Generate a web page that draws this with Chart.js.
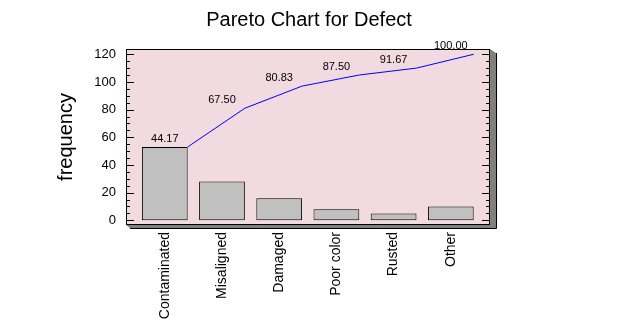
<!DOCTYPE html>
<html>
<head>
<meta charset="utf-8">
<script src="https://cdn.jsdelivr.net/npm/chart.js@4.4.1/dist/chart.umd.min.js"></script>
<style>
  html, body { margin: 0; padding: 0; background: #ffffff; }
  canvas { display: block; }
</style>
</head>
<body>
<canvas id="pareto" width="618" height="326"></canvas>
<script>
// Defect categories, sorted as in the Pareto ordering ("Other" last)
const categories = ['Contaminated', 'Misaligned', 'Damaged', 'Poor color', 'Rusted', 'Other'];
// Count of defects in each category
const counts = [53, 28, 16, 8, 5, 10];
// Labelled values on the frequency axis
const yTickValues = [0, 20, 40, 60, 80, 100, 120];

const FONT = "'Liberation Sans', Arial, Helvetica, sans-serif";
const BAR_PCT = 0.8;

// Running total of counts and the cumulative percentage shown above each bar
const total = counts.reduce((a, b) => a + b, 0);
const cumulative = [];
counts.reduce((acc, c, i) => (cumulative[i] = acc + c), 0);
const cumPercent = cumulative.map(c => (c / total * 100).toFixed(2));

// Plot frame: pink panel, grey 3-D shadow, inside tick marks on both sides
const framePlugin = {
  id: 'frame',
  beforeDraw(chart) {
    const ctx = chart.ctx;
    ctx.save();
    ctx.fillStyle = '#ffffff';
    ctx.fillRect(0, 0, chart.width, chart.height);
    ctx.restore();
  },
  beforeDatasetsDraw(chart) {
    const { ctx, chartArea: a, scales } = chart;
    const L = Math.round(a.left), R = Math.round(a.right);
    const T = Math.round(a.top), B = Math.round(a.bottom);
    ctx.save();
    // shadow on the right and bottom
    ctx.fillStyle = '#808080';
    ctx.beginPath();
    ctx.moveTo(R, T); ctx.lineTo(R + 6, T + 4); ctx.lineTo(R + 6, B + 3);
    ctx.lineTo(L + 4, B + 3); ctx.lineTo(L, B); ctx.closePath();
    ctx.fill();
    ctx.strokeStyle = '#000000';
    ctx.lineWidth = 1;
    ctx.beginPath();
    ctx.moveTo(R + 6.5, T + 4); ctx.lineTo(R + 6.5, B + 3.5); ctx.lineTo(L + 4, B + 3.5);
    ctx.stroke();
    // panel
    ctx.fillStyle = '#f2dae1';
    ctx.fillRect(L, T, R - L, B - T);
    // tick marks every 5, longer at every 20
    const y = scales.y;
    ctx.strokeStyle = '#000000';
    ctx.beginPath();
    for (let v = 0; v <= 120; v += 5) {
      const py = Math.round(y.getPixelForValue(v)) + 0.5;
      const len = v % 20 === 0 ? 8 : 4;
      ctx.moveTo(L, py); ctx.lineTo(L + len, py);
      ctx.moveTo(R, py); ctx.lineTo(R - len, py);
    }
    ctx.stroke();
    // border
    ctx.strokeRect(L + 0.5, T + 0.5, R - L - 1, B - T - 1);
    ctx.restore();
  },
  afterDatasetsDraw(chart) {
    const { ctx, scales } = chart;
    ctx.save();
    ctx.fillStyle = '#000000';
    ctx.font = '11px ' + FONT;
    ctx.textAlign = 'center';
    ctx.textBaseline = 'alphabetic';
    cumPercent.forEach((label, i) => {
      const px = scales.x.getPixelForValue(i);
      const py = scales.y.getPixelForValue(cumulative[i]);
      ctx.fillText(label, px, py - 5);
    });
    ctx.restore();
  }
};

new Chart(document.getElementById('pareto'), {
  data: {
    datasets: [
      {
        type: 'line',
        data: cumulative.map((c, i) => ({ x: i + BAR_PCT / 2, y: c })),
        borderColor: '#0000ff',
        borderWidth: 1,
        pointRadius: 0,
        tension: 0,
        fill: false,
        order: 0
      },
      {
        type: 'bar',
        data: counts.map((c, i) => ({ x: i, y: c })),
        backgroundColor: '#c0c0c0',
        borderColor: '#000000',
        borderWidth: 1,
        borderSkipped: false,
        barPercentage: BAR_PCT,
        categoryPercentage: 1,
        order: 1
      }
    ]
  },
  options: {
    responsive: false,
    animation: false,
    layout: { padding: 0 },
    plugins: {
      legend: { display: false },
      tooltip: { enabled: false },
      title: {
        display: true,
        text: 'Pareto Chart for Defect',
        color: '#000000',
        font: { family: FONT, size: 20, weight: 'normal' },
        padding: { top: 8, bottom: 17 }
      }
    },
    scales: {
      x: {
        type: 'linear',
        offset: false,
        min: -0.678,
        max: 5.685,
        grid: { display: false, drawTicks: false, offset: false },
        border: { display: false },
        afterBuildTicks(scale) {
          scale.ticks = categories.map((_, i) => ({ value: i }));
        },
        afterFit(scale) { scale.height = 101; },
        ticks: {
          autoSkip: false,
          minRotation: 90,
          maxRotation: 90,
          padding: 7,
          color: '#000000',
          font: { family: FONT, size: 14 },
          callback: (v, i) => categories[i]
        }
      },
      y: {
        type: 'linear',
        min: -3.4,
        max: 123.8,
        grid: { display: false, drawTicks: false },
        border: { display: false },
        afterBuildTicks(scale) {
          scale.ticks = yTickValues.map(v => ({ value: v }));
        },
        afterFit(scale) { scale.width = 126; },
        ticks: {
          padding: 10,
          color: '#000000',
          font: { family: FONT, size: 13 },
          callback: v => String(v)
        },
        title: {
          display: true,
          text: 'frequency',
          color: '#000000',
          font: { family: FONT, size: 20, weight: 'normal' },
          padding: { top: 54, bottom: 0 }
        }
      },
      // empty right-hand margin so the title stays centred on the page
      margin: {
        type: 'linear',
        position: 'right',
        display: true,
        grid: { display: false, drawTicks: false },
        border: { display: false },
        ticks: { display: false },
        afterFit(scale) { scale.width = 128; }
      }
    }
  },
  plugins: [framePlugin]
});
</script>
</body>
</html>
